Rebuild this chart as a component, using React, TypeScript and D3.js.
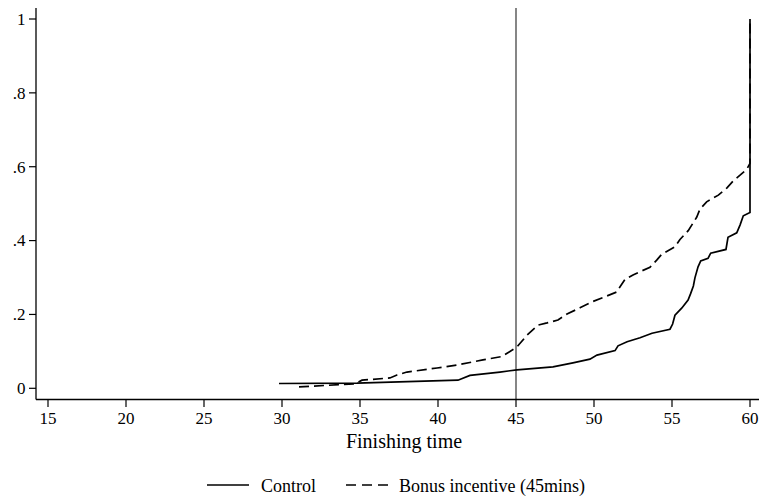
import React from "react";
import * as d3 from "d3";

const xTicks = [15, 20, 25, 30, 35, 40, 45, 50, 55, 60];
const yTicks = [0, 0.2, 0.4, 0.6, 0.8, 1];
const yTickLabels = ["0", ".2", ".4", ".6", ".8", "1"];
const thresholdTime = 45;

const controlTime = [29.81, 34.81, 41.28, 42.05, 43.97, 45.06, 47.37, 48.65, 49.74, 50.19, 51.35, 51.54, 52.12, 52.95, 53.72, 54.87, 55.04, 55.19, 55.62, 56.03, 56.2, 56.37, 56.47, 56.67, 56.84, 57.31, 57.48, 58.46, 58.59, 59.15, 59.36, 59.57, 60.0, 60.0];
const controlCdf = [0.013, 0.014, 0.022, 0.035, 0.044, 0.05, 0.058, 0.069, 0.079, 0.09, 0.102, 0.115, 0.126, 0.137, 0.149, 0.16, 0.174, 0.198, 0.217, 0.239, 0.257, 0.277, 0.299, 0.329, 0.345, 0.352, 0.366, 0.376, 0.409, 0.421, 0.442, 0.467, 0.476, 1.0];

const bonusTime = [31.09, 34.68, 35.13, 36.92, 37.37, 38.01, 39.94, 41.22, 42.88, 44.1, 45.06, 45.71, 46.41, 46.99, 47.69, 48.27, 49.1, 49.87, 50.83, 51.47, 51.67, 51.99, 52.5, 53.59, 54.02, 54.34, 55.19, 55.51, 56.04, 56.58, 56.79, 57.22, 57.97, 58.51, 58.93, 59.36, 59.79, 60.0, 60.0];
const bonusCdf = [0.004, 0.012, 0.022, 0.028, 0.036, 0.044, 0.055, 0.063, 0.077, 0.086, 0.112, 0.144, 0.171, 0.177, 0.185, 0.201, 0.218, 0.234, 0.25, 0.261, 0.275, 0.295, 0.307, 0.328, 0.347, 0.363, 0.383, 0.403, 0.427, 0.463, 0.485, 0.505, 0.523, 0.542, 0.562, 0.577, 0.593, 0.609, 1.0];

const legendLabels = ["Control", "Bonus incentive (45mins)"];
const xTitle = "Finishing time";

export default function App() {
  const W = 760, H = 498;
  const plotLeft = 36, plotRight = 759, plotTop = 8, plotBottom = 399.5;
  const x = d3.scaleLinear().domain([15, 60]).range([48, 750]);
  const y = d3.scaleLinear().domain([0, 1]).range([388.3, 19]);
  const font = "'Liberation Serif', 'Times New Roman', serif";

  const line = d3.line<[number, number]>().x(d => x(d[0])).y(d => y(d[1]));
  const controlPts: [number, number][] = controlTime.map((t, i) => [t, controlCdf[i]]);
  const bonusPts: [number, number][] = bonusTime.map((t, i) => [t, bonusCdf[i]]);

  return (
    <svg width={W} height={H} style={{ position: "absolute", left: 0, top: 0, background: "#fff" }} fontFamily={font}>
      <rect x={0} y={0} width={W} height={H} fill="#fff" />
      {/* threshold line */}
      <line x1={x(thresholdTime)} x2={x(thresholdTime)} y1={plotTop} y2={plotBottom} stroke="#444" strokeWidth={1.3} />
      {/* curves */}
      <path d={line(bonusPts) || ""} fill="none" stroke="#000" strokeWidth={1.7} strokeDasharray="10,5" />
      <path d={line(controlPts) || ""} fill="none" stroke="#000" strokeWidth={1.7} />
      {/* axes */}
      <line x1={plotLeft} x2={plotLeft} y1={plotTop} y2={plotBottom} stroke="#000" strokeWidth={1.3} />
      <line x1={plotLeft} x2={plotRight} y1={plotBottom} y2={plotBottom} stroke="#000" strokeWidth={1.3} />
      {yTicks.map((v, i) => (
        <g key={"y" + i}>
          <line x1={29} x2={plotLeft} y1={y(v)} y2={y(v)} stroke="#000" strokeWidth={1.2} />
          <text x={25.5} y={y(v)} dy="0.34em" textAnchor="end" fontSize={17} fill="#000">{yTickLabels[i]}</text>
        </g>
      ))}
      {xTicks.map((v, i) => (
        <g key={"x" + i}>
          <line x1={x(v)} x2={x(v)} y1={plotBottom} y2={407} stroke="#000" strokeWidth={1.2} />
          <text x={x(v)} y={424} textAnchor="middle" fontSize={17} fill="#000">{v}</text>
        </g>
      ))}
      <text x={(x(15) + x(60)) / 2 + 5} y={448} textAnchor="middle" fontSize={20} fill="#000">{xTitle}</text>
      {/* legend */}
      <line x1={207} x2={249} y1={485} y2={485} stroke="#000" strokeWidth={1.7} />
      <text x={261} y={492} fontSize={18} fill="#000">{legendLabels[0]}</text>
      <line x1={346} x2={388} y1={485} y2={485} stroke="#000" strokeWidth={1.7} strokeDasharray="10,6" />
      <text x={399} y={492} fontSize={18} fill="#000">{legendLabels[1]}</text>
    </svg>
  );
}
